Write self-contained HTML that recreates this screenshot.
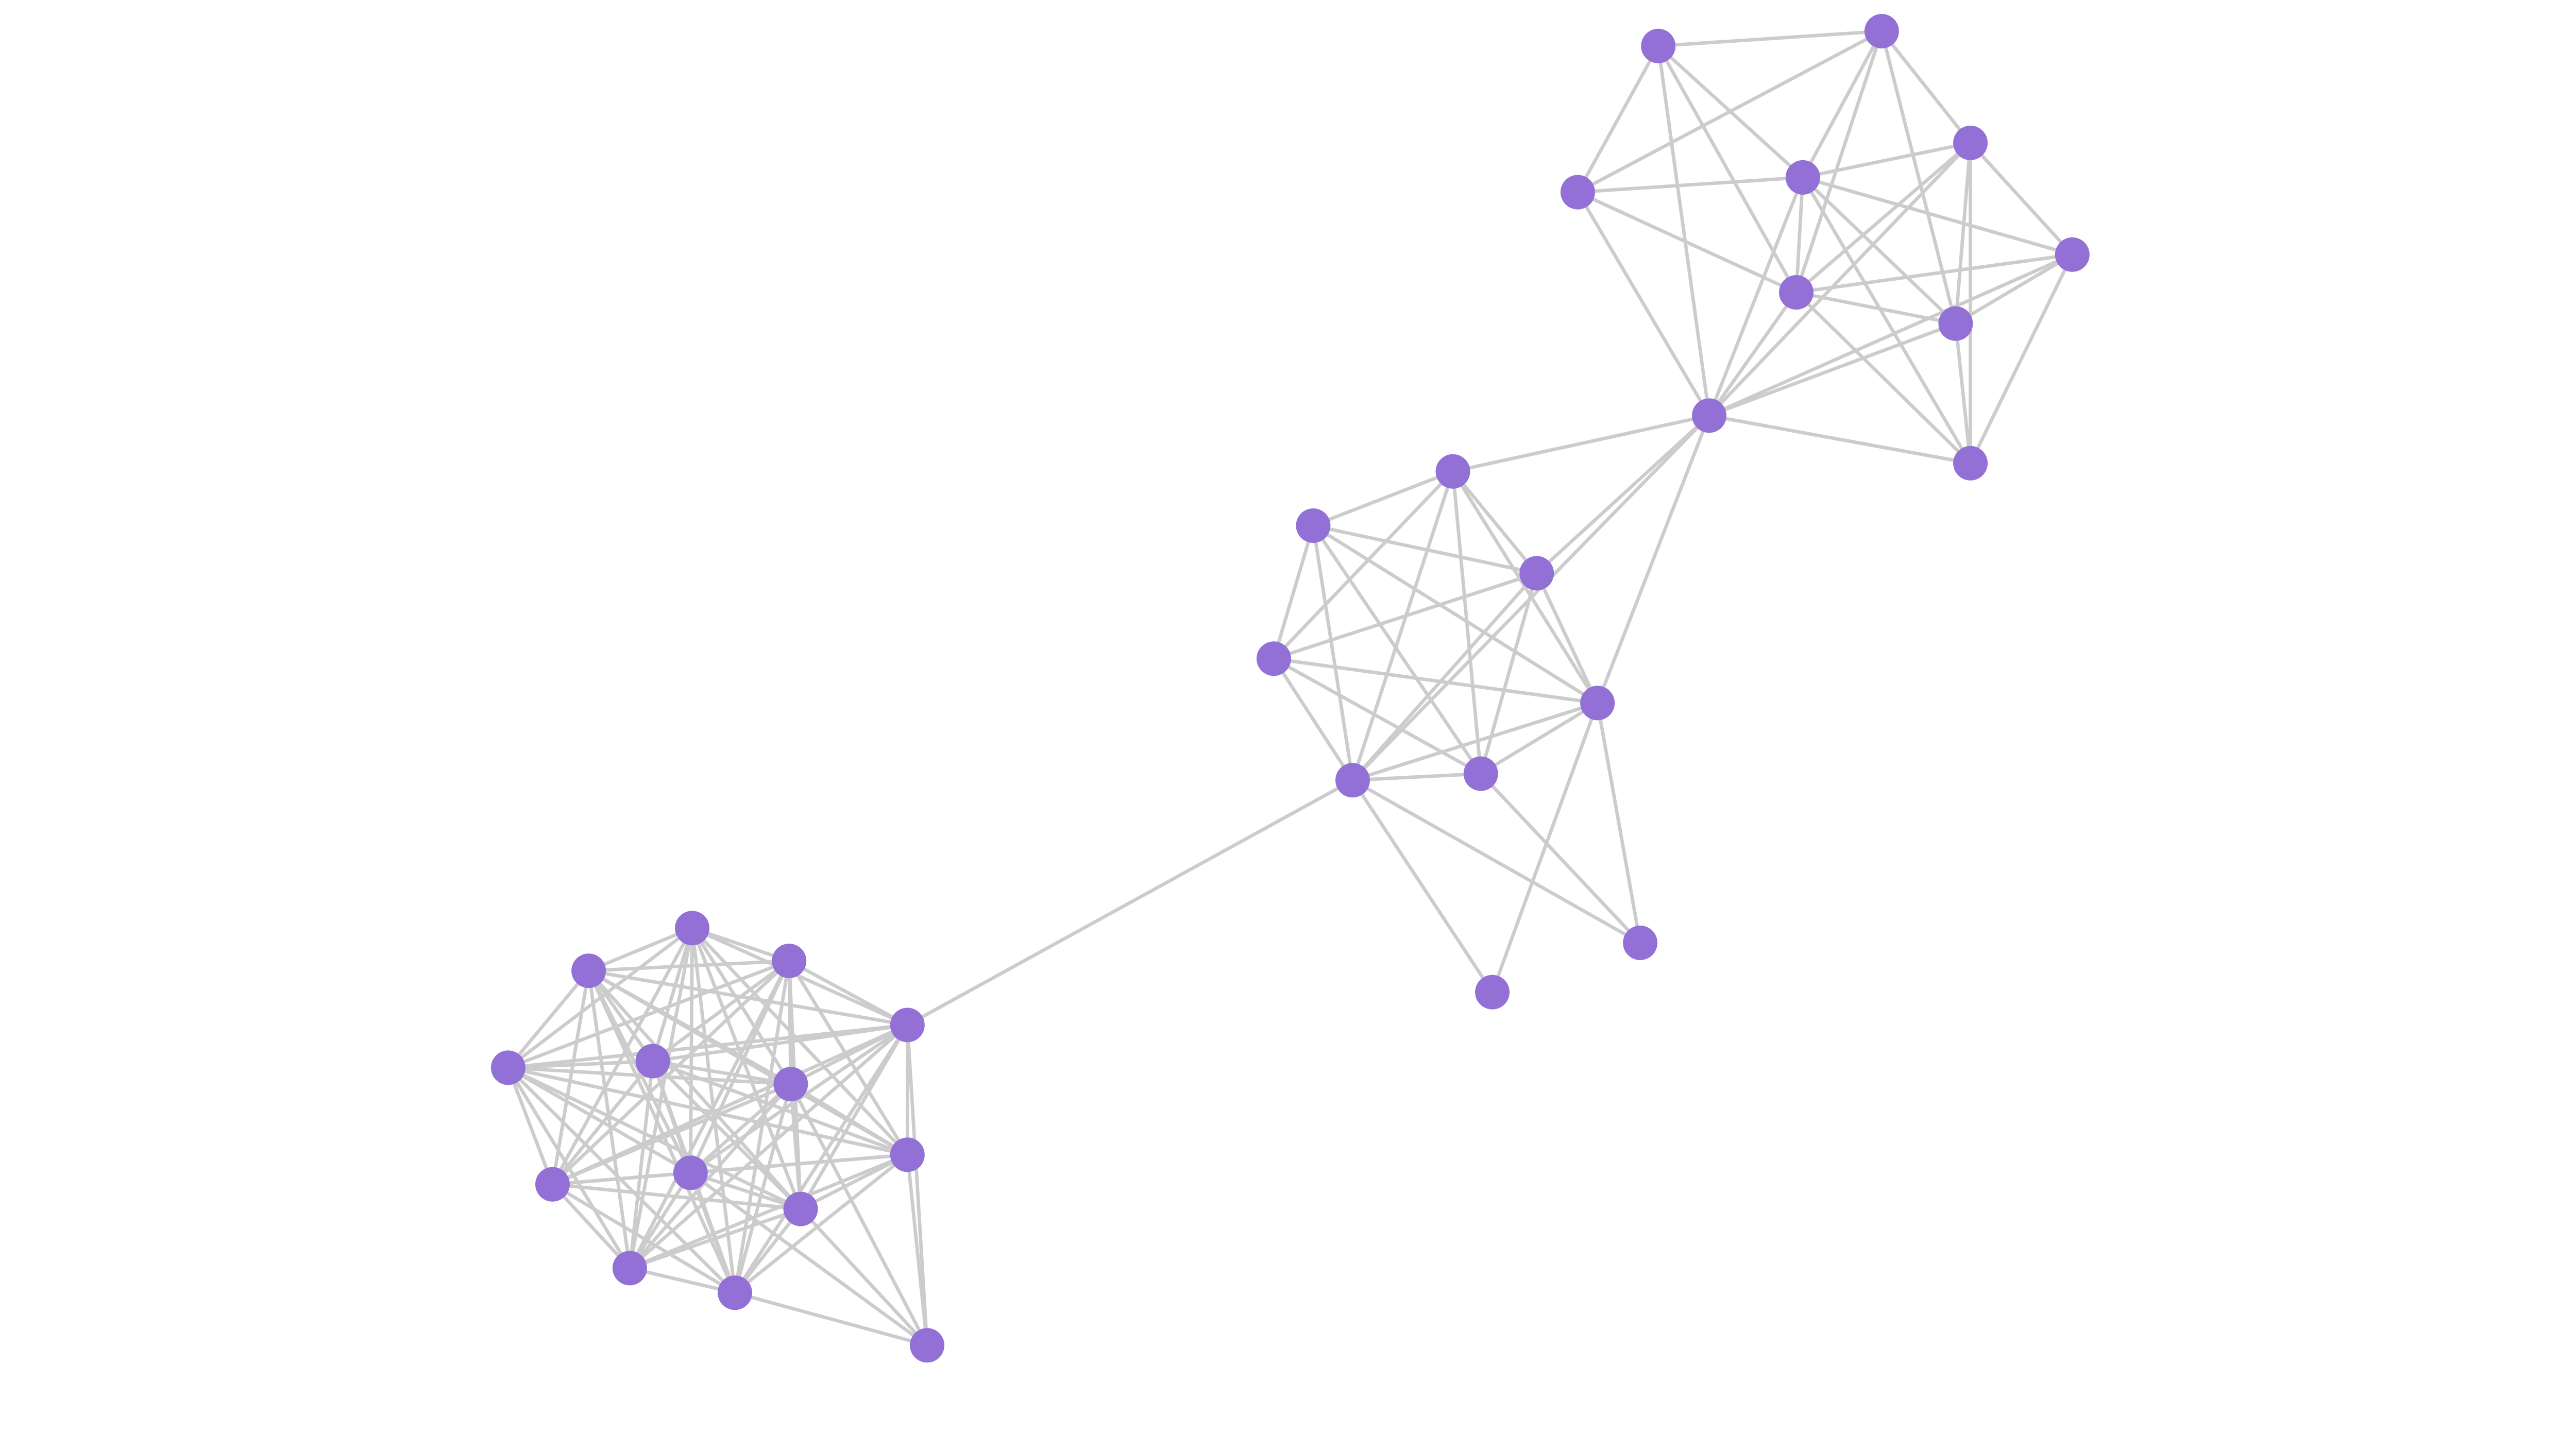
<!DOCTYPE html>
<html><head><meta charset="utf-8"><style>
html,body{margin:0;padding:0;background:#fff;}
svg{display:block}
</style></head><body>
<svg id="s" width="5200" height="2784" viewBox="0 0 1630 873" xmlns="http://www.w3.org/2000/svg">
<g id="e" stroke="#cccccc" stroke-width="2.1" stroke-linecap="round"></g>
<g id="n" fill="#9370d6"></g>
</svg>
<script>
var N={
T1:[1009,28],T2:[1145,19],T3:[960,117],T4:[1097,108],T5:[1199,87],T6:[1261,155],T7:[1093,178],T8:[1190,197],T9:[1040,253],T10:[1199,282],
M1:[884,287],M2:[799,320],M3:[935,349],M4:[775,401],M5:[972,428],M6:[823,475],M7:[901,471],M8:[908,604],M9:[998,574],
L1:[421,565],L2:[358,591],L3:[480,585],L4:[309,650],L5:[397,646],L6:[552,624],L7:[481,660],L8:[336,721],L9:[420,714],L10:[487,736],L11:[552,703],L12:[383,772],L13:[447,787],L14:[564,819]};
var E="T1-T2 T1-T3 T1-T9 T1-T7 T1-T4 T2-T3 T2-T4 T2-T7 T2-T8 T2-T5 T3-T4 T3-T7 T3-T9 T4-T5 T4-T6 T4-T7 T4-T9 T4-T8 T4-T10 T5-T7 T5-T9 T5-T6 T5-T8 T5-T10 T6-T7 T6-T9 T6-T8 T6-T10 T7-T8 T7-T9 T7-T10 T8-T9 T8-T10 T9-T10 "+
"M1-T9 M1-M2 M1-M6 M1-M3 M1-M7 M1-M5 M1-M4 M2-M3 M2-M4 M2-M6 M2-M7 M2-M5 M3-M4 M3-T9 M3-M6 M3-M5 M3-M7 M4-M5 M4-M7 M4-M6 M5-M7 M5-M6 M5-T9 M5-M8 M5-M9 M6-M7 M6-M8 M6-M9 M6-T9 M7-M9 M6-L6 "+
"L14-L13 L14-L11 L14-L10 L14-L7 L14-L6 L14-L9";
var es=E.trim().split(/\s+/);
for(var i=1;i<=13;i++)for(var j=i+1;j<=13;j++)es.push("L"+i+"-L"+j);
var g=document.getElementById("e"),h="";
es.forEach(function(p){var a=N[p.split("-")[0]],b=N[p.split("-")[1]];
h+='<line x1="'+a[0]+'" y1="'+a[1]+'" x2="'+b[0]+'" y2="'+b[1]+'"/>';});
g.innerHTML=h;
var n="";for(var k in N)n+='<circle cx="'+N[k][0]+'" cy="'+N[k][1]+'" r="10.5"/>';
document.getElementById("n").innerHTML=n;
</script>
</body></html>
